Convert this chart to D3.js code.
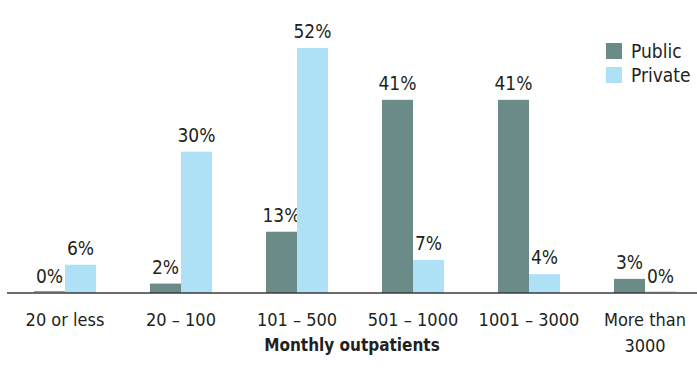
<!DOCTYPE html>
<html>
<head>
<meta charset="utf-8">
<script src="https://cdn.jsdelivr.net/npm/d3@7"></script>
<style>
  html, body { margin: 0; padding: 0; background: #fff; }
  svg text { font-family: 'Liberation Sans Narrow', 'DejaVu Sans Condensed', 'Roboto Condensed', sans-serif; fill: #231f20; }
</style>
</head>
<body>
<svg id="chart" width="697" height="382"></svg>
<script>
// Monthly outpatient volume by facility type (share of facilities, %)
const categories = ["20 or less", "20 – 100", "101 – 500", "501 – 1000", "1001 – 3000", "More than|3000"];
const seriesNames = ["Public", "Private"];
const publicValues = [0, 2, 13, 41, 41, 3];
const privateValues = [6, 30, 52, 7, 4, 0];
const colors = ["#6b8b88", "#aee0f6"];

const svg = d3.select("#chart");
const baseY = 293;

const x = d3.scaleBand().domain(categories).range([7, 703]).paddingInner(0).paddingOuter(0);
const sub = d3.scaleBand().domain(seriesNames).range([0, x.bandwidth() * 0.535]);
const y = d3.scaleLinear().domain([0, 52]).range([baseY, 48]);

const series = [publicValues, privateValues];

const groups = svg.selectAll("g.grp")
  .data(categories)
  .join("g")
  .attr("class", "grp")
  .attr("transform", d => `translate(${x(d) + x.bandwidth() / 2 - sub.range()[1] / 2},0)`);

seriesNames.forEach((name, si) => {
  groups.append("rect")
    .attr("x", sub(name))
    .attr("width", sub.bandwidth())
    .attr("y", (d, i) => y(series[si][i]))
    .attr("height", (d, i) => Math.max(baseY - y(series[si][i]), 0))
    .attr("fill", colors[si]);
  // zero-value bar still shows as a thin sliver on the axis
  groups.filter((d, i) => series[si][i] === 0)
    .append("rect")
    .attr("x", sub(name))
    .attr("width", sub.bandwidth())
    .attr("y", baseY - 1.8)
    .attr("height", 1)
    .attr("fill", colors[si]);
  groups.append("text")
    .attr("x", sub(name) + sub.bandwidth() / 2)
    .attr("y", (d, i) => y(series[si][i]) - 10)
    .attr("text-anchor", "middle")
    .attr("font-size", 19)
    .text((d, i) => series[si][i] + "%");
});

// baseline axis
const xAxis = d3.axisBottom(x).tickSize(0).tickPadding(0).tickFormat(() => "");
const axisG = svg.append("g").attr("transform", `translate(0,${baseY})`).call(xAxis);
axisG.select(".domain").attr("stroke", "#3a3a3a").attr("stroke-width", 1.6).attr("d", "M7,0H697");
axisG.selectAll(".tick").each(function (d) {
  const t = d3.select(this).append("text")
    .attr("text-anchor", "middle")
    .attr("font-size", 18)
    .attr("fill", "#231f20");
  d.split("|").forEach((line, k) => {
    t.append("tspan").attr("x", 0).attr("y", 33 + k * 26).text(line);
  });
});

// axis title
svg.append("text")
  .attr("x", 352)
  .attr("y", 351)
  .attr("text-anchor", "middle")
  .attr("font-size", 17)
  .attr("font-weight", "bold")
  .text("Monthly outpatients");

// legend
const legend = svg.append("g").attr("transform", "translate(606,43)");
seriesNames.forEach((name, i) => {
  legend.append("rect").attr("x", 0).attr("y", i * 24).attr("width", 16).attr("height", 16).attr("fill", colors[i]);
  legend.append("text").attr("x", 25).attr("y", i * 24 + 15).attr("font-size", 19).text(name);
});
</script>
</body>
</html>
